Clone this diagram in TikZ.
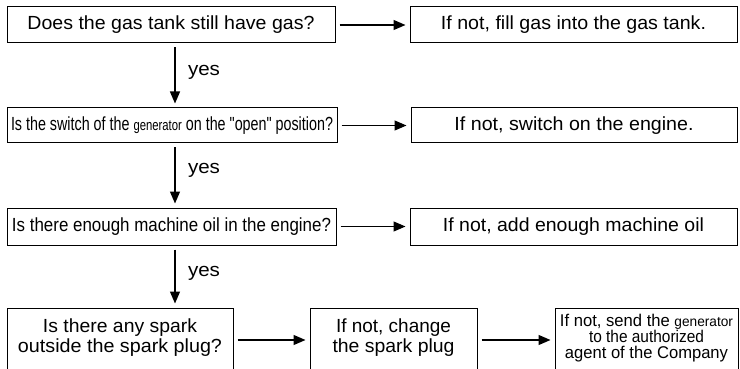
\documentclass[tikz,border=0pt]{standalone}
\usepackage{fontspec}
\setmainfont{Liberation Sans}
\newfontfamily\qf{Liberation Sans}[Ligatures=TeXOff]
\usetikzlibrary{arrows.meta}
\newcommand{\hw}[2]{\resizebox{#1pt}{\height}{#2}}
\newcommand{\smallgen}{{\fontsize{15}{16}\selectfont generator}}
\newcommand{\qq}{{\qf"}}
\begin{document}
\begin{tikzpicture}[x=1pt,y=-1pt,
  box/.style={draw, line width=1pt, inner sep=0pt, align=center, font=\fontsize{19}{20}\selectfont},
  arr/.style={line width=1.3pt, -{Triangle[length=12pt,width=10pt]}, shorten <=4pt, shorten >=4pt},
  lab/.style={inner sep=0pt, font=\fontsize{19}{20}\selectfont}]
\useasboundingbox (0,0) rectangle (740,369);
% row 1
\node[box, minimum width=328pt, minimum height=36pt] (q1) at (171,25) {\hw{287}{Does the gas tank still have gas?}};
\node[box, minimum width=327pt, minimum height=36pt] (a1) at (573.5,25) {\hw{265}{If not, fill gas into the gas tank.}};
% row 2
\node[box, minimum width=330pt, minimum height=35pt] (q2) at (172,125.5) {\hw{322}{Is the switch of the \smallgen{} on the \qq open\qq{} position?}};
\node[box, minimum width=326pt, minimum height=35pt] (a2) at (574,125.5) {\hw{239}{If not, switch on the engine.}};
% row 3
\node[box, minimum width=329pt, minimum height=37pt] (q3) at (171.5,226.5) {\hw{319}{Is there enough machine oil in the engine?}};
\node[box, minimum width=327pt, minimum height=37pt] (a3) at (573.5,226.5) {\hw{261}{If not, add enough machine oil}};
% row 4
\node[box, minimum width=226pt, minimum height=64pt, text depth=9pt] (q4) at (120,340) {\hw{154}{Is there any spark}\\\hw{204}{outside the spark plug?}};
\node[box, minimum width=167pt, minimum height=64pt, text depth=9pt] (m4) at (393.5,340) {\hw{115}{If not, change}\\\hw{122}{the spark plug}};
\node[box, minimum width=183pt, minimum height=64pt, font=\fontsize{17}{16}\selectfont, text depth=8pt] (r4) at (646.5,340) {\hw{173}{If not, send the {\fontsize{14}{16}\selectfont generator}}\\\hw{115}{to the authorized}\\\hw{163}{agent of the Company}};
% vertical connectors
\coordinate (v) at (175,0);
\draw[arr] (q1.south -| v) -- (q2.north -| v);
\draw[arr] (q2.south -| v) -- (q3.north -| v);
\draw[arr] (q3.south -| v) -- (q4.north -| v);
\node[lab] (y1) at (204,72) {\hw{32}{yes}};
\node[lab] (y2) at (204,170) {\hw{32}{yes}};
\node[lab] (y3) at (204,273) {\hw{32}{yes}};
% horizontal connectors
\draw[arr] (q1.east) -- (q1.east -| a1.west);
\draw[arr] (q2.east) -- (q2.east -| a2.west);
\draw[arr] (q3.east) -- (q3.east -| a3.west);
\draw[arr] (q4.east) -- (q4.east -| m4.west);
\draw[arr] (m4.east) -- (m4.east -| r4.west);
\end{tikzpicture}
\end{document}
